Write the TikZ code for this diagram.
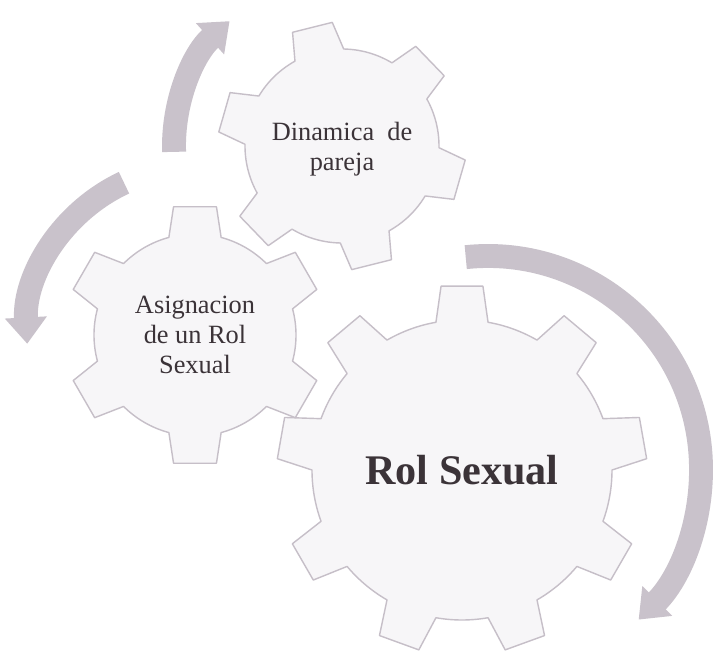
\documentclass[tikz,border=0pt]{standalone}
\usepackage{fontspec}
\setmainfont{Liberation Serif}
\usepackage{tikz}
\usetikzlibrary{calc,arrows.meta}

\definecolor{gearfill}{HTML}{F7F6F8}
\definecolor{gearline}{HTML}{C6BFC8}
\definecolor{arrowgrey}{HTML}{C9C2CB}
\definecolor{inkgrey}{HTML}{3B3338}

% centre, teeth, tip radius, root radius, first tooth, half tip angle, half root angle
\newcommand{\gearpath}[7]{%
  \draw[gear,shift={(#1)}] ({#5-#7}:#4)
    \foreach \k in {1,...,#2}{
      -- ({#5+(\k-1)*360/#2-#6}:#3) -- ({#5+(\k-1)*360/#2+#6}:#3)
      -- ({#5+(\k-1)*360/#2+#7}:#4)
      arc[start angle={#5+(\k-1)*360/#2+#7},end angle={#5+\k*360/#2-#7},radius=#4]
    } -- cycle;}

\begin{document}
\begin{tikzpicture}[x=0.02cm,y=0.02cm]
            \tikzstyle{gear}=[fill=gearfill,draw=gearline,line width=0.8pt,line join=round]
            \tikzstyle{gear text}=[align=center,text=inkgrey,font=\fontsize{15}{17}\selectfont]
            \tikzstyle{turn arrow}=[draw=arrowgrey,line width=13.6pt,-{Triangle[length=15pt,width=23pt]}]
            \useasboundingbox[fill=white] (0,0) rectangle (714,653);
            % gears
            \gearpath{462,183}{9}{185}{150}{90}{6.5}{10}
            \gearpath{195,318}{6}{130}{101}{90}{9.5}{15}
            \gearpath{342,507}{6}{124}{97}{104}{9.5}{15}
            \node(rol)[gear text,font=\fontsize{24}{28}\selectfont\bfseries] at (462,183) {Rol Sexual};
            \node(asig)[gear text] at (195,318) {Asignacion\\de un Rol\\Sexual};
            \node(din)[gear text] at (342,504) {Dinamica\ \ de\\pareja};
            % turning arrows
            \draw[turn arrow] ($(din.center)+(0,3)+(182:168)$) arc[start angle=182,end angle=132,radius=168];
            \draw[turn arrow] ($(asig.center)+(115:168)$) arc[start angle=115,end angle=183,radius=168];
            \draw[turn arrow] ($(rol.center)+(26,1)+(96:213)$) arc[start angle=96,end angle=-45,radius=213];
\end{tikzpicture}
\end{document}
